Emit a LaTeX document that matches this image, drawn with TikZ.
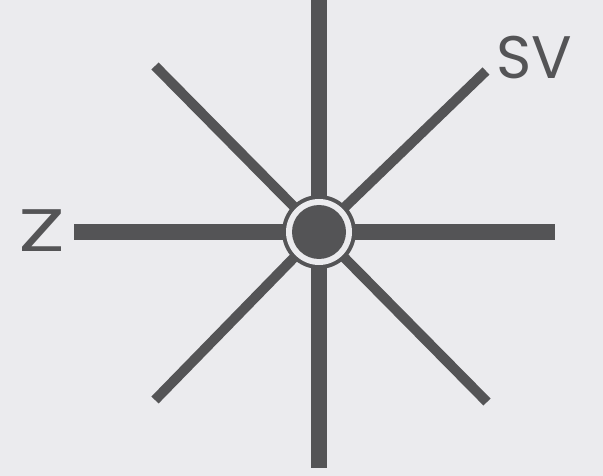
\documentclass[tikz,border=0pt]{standalone}
\usepackage{fontspec}
\setmainfont{Poppins}
\definecolor{bg}{HTML}{EBEBEE}
\definecolor{ink}{HTML}{545456}
\begin{document}
\begin{tikzpicture}[x=1pt,y=-1pt,
  axis/.style={draw=ink,line width=16pt},
  diag/.style={draw=ink,line width=10pt},
  lbl/.style={text=ink,font=\fontsize{60}{60}\selectfont,inner sep=0pt}]
\fill[bg] (0,0) rectangle (603,476);
\useasboundingbox (0,0) rectangle (603,476);
\coordinate (c) at (319,232);
\coordinate (top) at (319,0);
\coordinate (bot) at (319,468);
\coordinate (l) at (74,232);
\coordinate (r) at (555,232);
\coordinate (ul) at (155,66);
\coordinate (ur) at (486,71);
\coordinate (ll) at (155,400);
\coordinate (lr) at (487,402);
\draw[diag] (c) -- (ul);
\draw[diag] (c) -- (ur);
\draw[diag] (c) -- (ll);
\draw[diag] (c) -- (lr);
\draw[axis] (top) -- (bot);
\draw[axis] (l) -- (r);
\node[circle,fill=ink,minimum size=74pt,inner sep=0pt] (hub) at (c) {};
\node[circle,fill=bg,minimum size=66pt,inner sep=0pt] (ring) at (c) {};
\node[circle,fill=ink,minimum size=54pt,inner sep=0pt] (core) at (c) {};
\node[lbl,anchor=west] (sv) at (496,58) {SV};
\node[lbl,anchor=east,xscale=1.45] (z) at (66,231) {Z};
\end{tikzpicture}
\end{document}
